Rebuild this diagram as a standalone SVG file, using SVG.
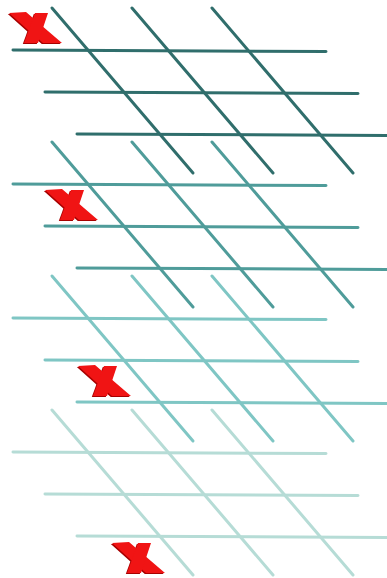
<svg xmlns="http://www.w3.org/2000/svg" width="387" height="578" viewBox="0 0 387 578">
  <defs>
    <style>
      .ln { stroke-width: 3; stroke-linecap: round; fill: none; }
      .b1 { stroke: #306e6c; }
      .b2 { stroke: #4f9c9a; }
      .b3 { stroke: #7fc6c4; }
      .b4 { stroke: #b6dcd6; }
      .xs { fill: #a80000; }
      .xf { fill: #f01414; }
    </style>
    <g id="grid">
      <line x1="13" y1="50" x2="326" y2="51.5"/>
      <line x1="45" y1="92" x2="358" y2="93.5"/>
      <line x1="77" y1="134" x2="392" y2="135.5"/>
      <line x1="52" y1="8" x2="193" y2="173"/>
      <line x1="132" y1="8" x2="273" y2="173"/>
      <line x1="212" y1="8" x2="353" y2="173"/>
    </g>
    <g id="xmark">
      <g class="xs" transform="translate(-1.2,1)">
        <path d="M0,1 L17,0 L39,19 L53,31 L34,31 L19,18 Z"/>
        <path d="M26,1 L39,1 L29,31 L15,31 Z"/>
      </g>
      <g class="xf">
        <path d="M0,1 L17,0 L39,19 L53,31 L34,31 L19,18 Z"/>
        <path d="M26,1 L39,1 L29,31 L15,31 Z"/>
      </g>
    </g>
  </defs>
  <g id="connectors">
    <use id="block4" href="#grid" class="ln b4" transform="translate(0,402)"/>
    <use id="block3" href="#grid" class="ln b3" transform="translate(0,268)"/>
    <use id="block2" href="#grid" class="ln b2" transform="translate(0,134)"/>
    <use id="block1" href="#grid" class="ln b1"/>
  </g>
  <g id="x1"><use href="#xmark" transform="translate(9,12)"/></g>
  <g id="x2"><use href="#xmark" transform="translate(45,189)"/></g>
  <g id="x3"><use href="#xmark" transform="translate(78,365)"/></g>
  <g id="x4"><use href="#xmark" transform="translate(112,542)"/></g>
</svg>
